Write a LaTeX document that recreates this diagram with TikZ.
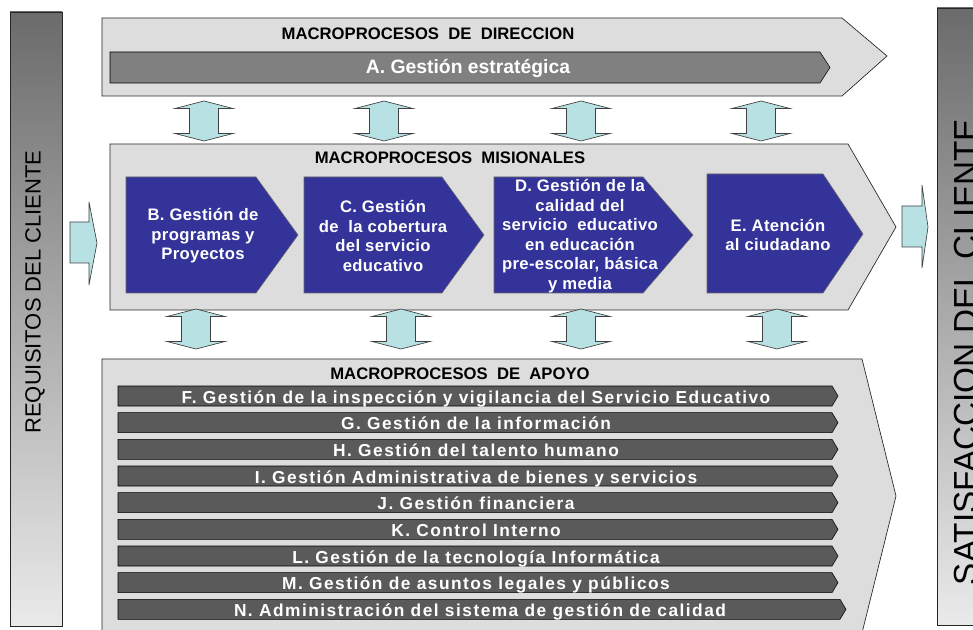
\documentclass[tikz,border=0pt]{standalone}
\usepackage{fontspec}
\setmainfont{Liberation Sans}

\definecolor{chevgray}{HTML}{DDDDDD}
\definecolor{procblue}{HTML}{333399}
\definecolor{bargray}{HTML}{5A5A5A}
\definecolor{stratgray}{HTML}{808080}
\definecolor{arrowcyan}{HTML}{B8E1E4}
\definecolor{sidedark}{HTML}{6B6B6B}
\definecolor{sidelight}{HTML}{EAEAEA}

\tikzset{
  chev/.style={fill=chevgray,draw=black!85,line width=0.5pt},
  procbox/.style={fill=procblue,draw=black!60,line width=0.4pt},
  apoyobar/.style={fill=bargray,draw=black,line width=0.4pt},
  stratbar/.style={fill=stratgray,draw=black,line width=0.4pt},
  dblarrow/.style={fill=arrowcyan,draw=black!75,line width=0.5pt},
  sidebar/.style={top color=sidedark,bottom color=sidelight,draw=black!85,line width=0.5pt},
  titletext/.style={font=\bfseries\fontsize{12.5}{14}\selectfont,inner sep=0pt},
  proctext/.style={text=white,align=center,inner sep=0pt,
    font=\bfseries\fontsize{12.5}{14.6}\selectfont\addfontfeatures{LetterSpace=2}},
  bartext/.style={text=white,anchor=base,inner sep=0pt,
    font=\bfseries\fontsize{13}{15}\selectfont\addfontfeatures{LetterSpace=8.5}},
  sidetext/.style={rotate=90,inner sep=0pt}
}

\begin{document}
\begin{tikzpicture}[x=0.75pt,y=-0.75pt]
  \useasboundingbox (0,0) rectangle (973,630);
  % client bars
  \shadedraw[sidebar] (10,12) rectangle (62,626);
  \node[sidetext,font=\fontsize{16.5}{18}\selectfont] (req) at (35,292) {REQUISITOS DEL CLIENTE};
  \shadedraw[sidebar] (937,8) rectangle (995,625);
  \node[sidetext,font=\fontsize{25}{27}\selectfont] (sat) at (966,352) {SATISFACCION DEL CLIENTE};
  % direccion
  \draw[chev] (102,18) -- (842,18) -- (887,56) -- (842,96) -- (102,96) -- cycle;
  \node[titletext] (dirtitle) at (428,34) {MACROPROCESOS\ \ DE\ \ DIRECCION};
  \draw[stratbar] (110,52) -- (820,52) -- (830,67.5) -- (820,83) -- (110,83) -- cycle;
  \node[text=white,inner sep=0pt,font=\bfseries\fontsize{14.5}{16}\selectfont] (estrat) at (468,68) {A. Gestión estratégica};
  % misionales
  \draw[chev] (110,144) -- (848,144) -- (896,227) -- (848,310) -- (110,310) -- cycle;
  \node[titletext] (mistitle) at (450,158) {MACROPROCESOS\ \ MISIONALES};
  \draw[procbox] (126,177) -- (256,177) -- (298,235) -- (256,293) -- (126,293) -- cycle;
  \draw[procbox] (304,177) -- (442,177) -- (484,235) -- (442,293) -- (304,293) -- cycle;
  \draw[procbox] (494,177) -- (643,177) -- (693,235) -- (643,293) -- (494,293) -- cycle;
  \draw[procbox] (707,174) -- (823,174) -- (863,234) -- (823,293) -- (707,293) -- cycle;
  \node[proctext] (progr) at (203,236) {B. Gestión de\\programas y\\Proyectos};
  \node[proctext] (cobert) at (383,236) {C. Gestión\\de\ \ la cobertura\\del servicio\\educativo};
  \node[proctext] (calid) at (580,236) {D. Gestión de la\\calidad del\\servicio\ \ educativo\\en educación\\pre-escolar, básica\\y media};
  \node[proctext] (atenc) at (778,235) {E. Atención\\al ciudadano};
  % entrada y salida
  \draw[dblarrow] (70,222) -- (89,222) -- (89,202) -- (97,243) -- (89,285) -- (89,263) -- (70,263) -- cycle;
  \draw[dblarrow] (902,206) -- (922,206) -- (922,185) -- (928,227) -- (922,268) -- (922,247) -- (902,247) -- cycle;
  % up-down arrows
  \foreach \cx/\cy in {204/101,384/101,581/101,761/101,196/309,401/309,581/309,777/309}
    \draw[dblarrow] (\cx,\cy) -- ++(29,7.5) -- ++(-14.5,0) -- ++(0,25) -- ++(14.5,0)
      -- ++(-29,7.5) -- ++(-29,-7.5) -- ++(14.5,0) -- ++(0,-25) -- ++(-14.5,0) -- cycle;
  % apoyo
  \draw[chev] (102,359) -- (862,359) -- (896,496) -- (862,633) -- (102,633) -- cycle;
  \node[titletext] (apotitle) at (460,374) {MACROPROCESOS\ \ DE\ \ APOYO};
  \foreach \t/\txt [count=\i] in {
      386/{F. Gestión de la inspección y vigilancia del Servicio Educativo},
      412.7/{G. Gestión de la información},
      439.3/{H. Gestión del talento humano},
      466/{I. Gestión Administrativa de bienes y servicios},
      492.7/{J. Gestión financiera},
      519.3/{K. Control Interno},
      546/{L. Gestión de la tecnología Informática},
      572.7/{M. Gestión de asuntos legales y públicos}} {
    \draw[apoyobar] (118,\t) -- (832,\t) -- (838,\t+10) -- (832,\t+20) -- (118,\t+20) -- cycle;
    \node[bartext] (ap\i) at (476,\t+17) {\txt};
  }
  \draw[apoyobar] (118,599.3) -- (840,599.3) -- (846,609.3) -- (840,619.3) -- (118,619.3) -- cycle;
  \node[bartext] (ap9) at (480,616.3) {N. Administración del sistema de gestión de calidad};
\end{tikzpicture}
\end{document}
